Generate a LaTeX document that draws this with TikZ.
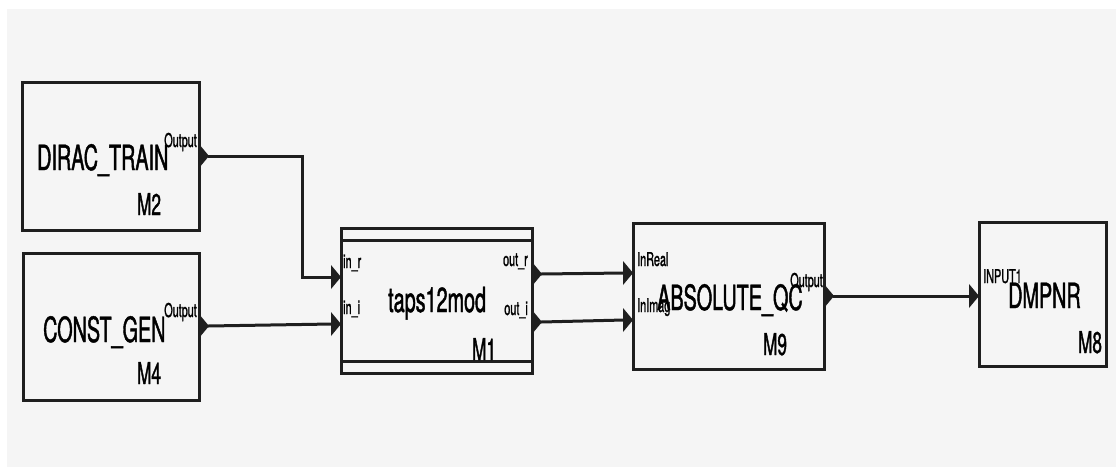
\documentclass[tikz,border=0pt]{standalone}
\usepackage{fontspec}
\newfontfamily\blockfont[FakeStretch=0.57,FakeBold=1.2]{TeX Gyre Heros}

\tikzset{
  block/.style={draw=black!88,line width=3pt,inner sep=0pt,outer sep=0pt},
  wire/.style={draw=black!88,line width=3pt},
  title/.style={inner sep=0pt,anchor=base west,font=\blockfont\fontsize{34.7}{36}\selectfont},
  ident/.style={inner sep=0pt,anchor=base west,font=\blockfont\fontsize{30}{32}\selectfont},
  portlbl/.style={inner sep=0pt,font=\blockfont\fontsize{19}{20}\selectfont},
  port/.pic={\fill[black!88] (0,-12) -- (10,0) -- (0,12) -- cycle;}
}

\begin{document}
\begin{tikzpicture}[x=1pt,y=-1pt]
  \useasboundingbox (0,0) rectangle (1116,467);
  \fill[gray!8] (7,9) rectangle (1116,467);

  % Blocks
  \node[block,minimum width=177pt,minimum height=148pt] (dirac) at (110.5,156) {};
  \node[block,minimum width=176pt,minimum height=147pt] (const) at (111,326.5) {};
  \node[block,minimum width=191pt,minimum height=145pt] (taps) at (436.5,300.5) {};
  \node[block,minimum width=191pt,minimum height=146pt] (absqc) at (728.5,296) {};
  \node[block,minimum width=127pt,minimum height=144pt] (dmpnr) at (1042.5,294) {};

  % Double rule of the hierarchical block
  \draw[wire] ([yshift=-12pt]taps.north west) -- ([yshift=-12pt]taps.north east);
  \draw[wire] ([yshift=12pt]taps.south west) -- ([yshift=12pt]taps.south east);

  % Block texts
  \node[title] (dirac-name) at (37,170) {DIRAC\_TRAIN};
  \node[ident] (dirac-id) at (137,215) {M2};
  \node[title] (const-name) at (43,342) {CONST\_GEN};
  \node[ident] (const-id) at (137,384) {M4};
  \node[title] (taps-name) at (388,312) {taps12mod};
  \node[ident] (taps-id) at (472,360) {M1};
  \node[title] (absqc-name) at (657,310) {ABSOLUTE\_QC};
  \node[ident] (absqc-id) at (763,355) {M9};
  \node[title] (dmpnr-name) at (1008,308) {DMPNR};
  \node[ident] (dmpnr-id) at (1078,353) {M8};

  % Port texts
  \node[portlbl,anchor=base east] (dirac-lout) at (197,147) {Output};
  \node[portlbl,anchor=base east] (const-lout) at (197,317) {Output};
  \node[portlbl,anchor=base west] (taps-lr) at (343,268) {in\_r};
  \node[portlbl,anchor=base west] (taps-li) at (343,314) {in\_i};
  \node[portlbl,anchor=base east] (taps-lor) at (528,266) {out\_r};
  \node[portlbl,anchor=base east] (taps-loi) at (528,315) {out\_i};
  \node[portlbl,anchor=base west] (absqc-lr) at (637,266) {InReal};
  \node[portlbl,anchor=base west] (absqc-li) at (637,312) {InImag};
  \node[portlbl,anchor=base east] (absqc-lout) at (823,287) {Output};
  \node[portlbl,anchor=base west] (dmpnr-lin) at (983,283) {INPUT1};

  % Ports
  \pic at (199,156) {port};
  \pic at (199,326) {port};
  \pic at (331,277) {port};
  \pic at (331,324) {port};
  \pic at (532,274) {port};
  \pic at (532,322) {port};
  \pic at (623,273) {port};
  \pic at (623,320) {port};
  \pic at (824,296) {port};
  \pic at (969,296) {port};

  \coordinate (dirac-out) at (208,156);
  \coordinate (const-out) at (208,326);
  \coordinate (taps-inr) at (332,277);
  \coordinate (taps-ini) at (332,324);
  \coordinate (taps-outr) at (541,274);
  \coordinate (taps-outi) at (541,322);
  \coordinate (absqc-inr) at (624,273);
  \coordinate (absqc-ini) at (624,320);
  \coordinate (absqc-out) at (833,296);
  \coordinate (dmpnr-in) at (970,296);

  % Connections
  \draw[wire] (dirac-out) -- ++(94,0) |- (taps-inr);
  \draw[wire] (const-out) -- (taps-ini);
  \draw[wire] (taps-outr) -- (absqc-inr);
  \draw[wire] (taps-outi) -- (absqc-ini);
  \draw[wire] (absqc-out) -- (dmpnr-in);
\end{tikzpicture}
\end{document}
